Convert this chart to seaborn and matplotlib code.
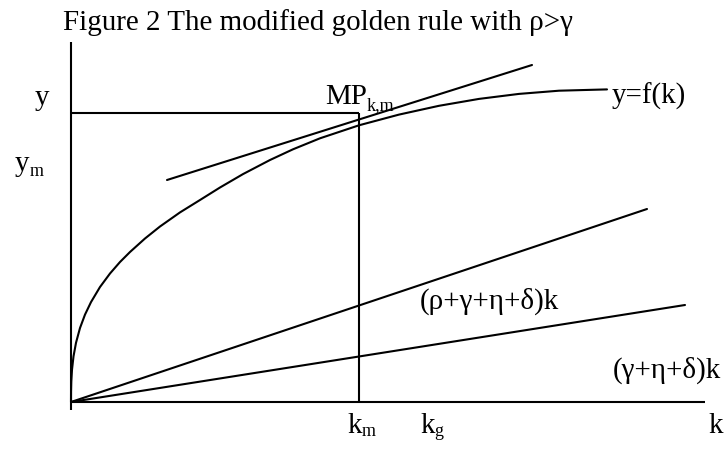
import matplotlib
matplotlib.use("Agg")
import matplotlib.pyplot as plt
import seaborn as sns
import pandas as pd

# ---- data (diagram units) ----
k_curve = [0, 0.05, 0.3, 1, 2.5, 5, 9, 14, 20, 29, 39, 49, 59, 74, 89, 109, 129, 149,
           172, 199, 222, 249, 288, 328, 368, 408, 448, 488, 536]
y_curve = [0, 10.4, 20.5, 32.3, 45.6, 59.2, 74, 87.4, 99.9, 115, 128.5, 140, 150, 163.5,
           175.5, 189.6, 202, 214.5, 227.9, 242, 252.7, 263.7, 276.7, 287.4, 296.2, 303.1,
           308.1, 311.3, 312.6]

ray_upper_k = [0, 576]
ray_upper_y = [0, 193]
ray_lower_k = [0, 614]
ray_lower_y = [0, 97]
tangent_k = [96, 461]
tangent_y = [222, 337]

k_m = 288
y_level = 289
k_axis_end = 634
y_axis_top = 360
y_axis_bottom = -8

title = "Figure 2 The modified golden rule with \u03c1>\u03b3"
lbl_upper = "(\u03c1+\u03b3+\u03b7+\u03b4)k"
lbl_lower = "(\u03b3+\u03b7+\u03b4)k"
lbl_curve = "y=f(k)"

sns.set_theme(style="white")
plt.rcParams['font.family'] = ['Liberation Serif', 'DejaVu Serif']

fig = plt.figure(figsize=(7.25, 4.59), dpi=100)
ax = fig.add_axes([0, 0, 1, 1])
ax.set_xlim(-71, 654)
ax.set_ylim(-57, 402)

LW = 1.5
col = 'black'

# axes of the diagram
ax.plot([0, 0], [y_axis_bottom, y_axis_top], color=col, lw=LW, solid_capstyle='butt')
ax.plot([0, k_axis_end], [0, 0], color=col, lw=LW, solid_capstyle='butt')

# rectangle to k_m
ax.plot([0, k_m], [y_level, y_level], color=col, lw=LW, solid_capstyle='butt')
ax.plot([k_m, k_m], [0, y_level], color=col, lw=LW, solid_capstyle='butt')

# production function
df = pd.DataFrame({'k': k_curve, 'y': y_curve})
sns.lineplot(data=df, x='k', y='y', sort=False, color=col, lw=LW, ax=ax, estimator=None)

# rays and tangent
ax.plot(ray_upper_k, ray_upper_y, color=col, lw=LW)
ax.plot(ray_lower_k, ray_lower_y, color=col, lw=LW)
ax.plot(tangent_k, tangent_y, color=col, lw=LW)
ax.axis('off')

FS = 20.9
SUB = 13


def T(xp, yp, s, size=FS):
    ax.text(xp - 71, 402 - yp, s, fontsize=size, ha='left', va='baseline', color=col)


T(63, 30, title)
T(35, 105, "y")
T(15, 171, "y"); T(30, 176, "m", SUB)
T(325, 104, "MP"); T(367, 110, "k,m", SUB)
T(612, 104, lbl_curve)
T(420, 309, lbl_upper)
T(613, 378, lbl_lower)
T(347, 433, "k"); T(362, 436, "m", SUB)
T(420, 433, "k"); T(434, 436, "g", SUB)
T(708, 433, "k")

fig.savefig("out.png", dpi=100)
